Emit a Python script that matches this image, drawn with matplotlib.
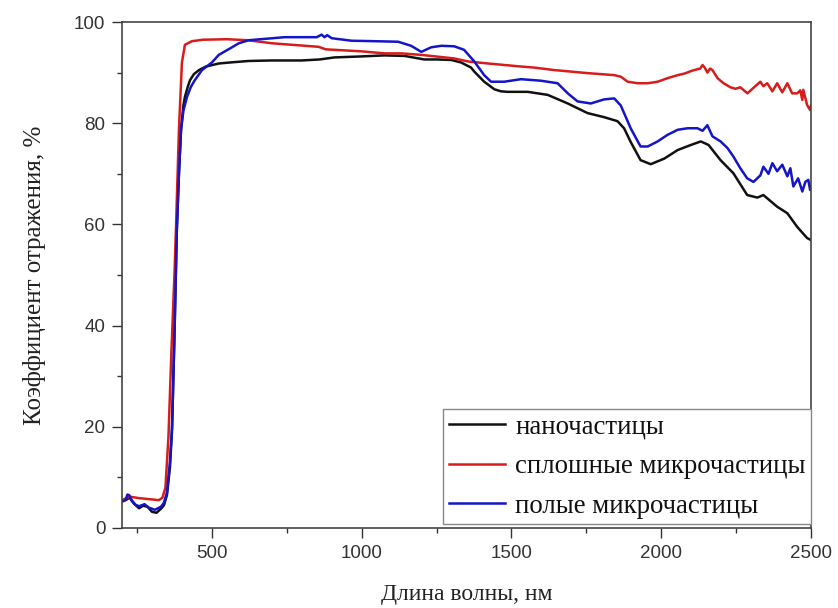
import matplotlib
matplotlib.use("Agg")
import matplotlib.pyplot as plt
from matplotlib.ticker import MultipleLocator

# Reflectance spectra, wavelength in nm, reflectance in %
nano_wl = [200, 215, 225, 240, 257, 270, 285, 300, 315, 330, 340, 350, 360, 367, 375,
           383, 390, 397, 405, 410, 420, 427, 440, 457, 480, 523, 560, 623, 700, 800,
           860, 909, 1000, 1076, 1143, 1209, 1250, 1299, 1332, 1365, 1376, 1409, 1443,
           1465, 1487, 1554, 1621, 1688, 1754, 1809, 1854, 1876, 1898, 1931, 1965,
           2010, 2055, 2099, 2132, 2158, 2198, 2241, 2287, 2321, 2341, 2387, 2421,
           2454, 2487, 2500]
nano_r = [5.4, 5.6, 6.0, 4.8, 3.9, 4.4, 4.2, 3.2, 3.0, 3.8, 4.5, 6.5, 12.0, 19.4, 38.0,
          59.0, 70.0, 78.7, 83.5, 85.2, 87.3, 88.5, 89.7, 90.5, 91.2, 91.8, 92.0, 92.3,
          92.4, 92.4, 92.6, 93.0, 93.2, 93.4, 93.3, 92.6, 92.6, 92.5, 92.0, 91.0, 90.2,
          88.2, 86.7, 86.3, 86.2, 86.2, 85.6, 83.9, 82.0, 81.2, 80.4, 79.0, 76.3, 72.7,
          71.9, 73.0, 74.7, 75.7, 76.4, 75.7, 72.7, 70.1, 65.8, 65.3, 65.8, 63.5, 62.2,
          59.5, 57.3, 56.9]

solid_wl = [200, 225, 257, 290, 323, 335, 345, 355, 365, 375, 380, 390, 400, 410, 433,
            470, 550, 620, 700, 856, 880, 1000, 1076, 1133, 1199, 1309, 1355, 1422, 1532,
            1575, 1643, 1754, 1843, 1865, 1888, 1921, 1955, 1988, 2021, 2055, 2077, 2104,
            2130, 2138, 2145, 2154, 2163, 2171, 2188, 2208, 2231, 2248, 2264, 2288, 2308,
            2331, 2341, 2354, 2371, 2387, 2404, 2421, 2437, 2454, 2464, 2471, 2474, 2487,
            2497, 2500]
solid_r = [5.5, 6.2, 5.9, 5.7, 5.5, 6.0, 8.0, 18.0, 35.0, 50.0, 59.0, 78.7, 92.0, 95.5,
           96.2, 96.5, 96.6, 96.4, 95.8, 95.1, 94.6, 94.2, 93.8, 93.8, 93.5, 92.8, 92.2,
           91.8, 91.2, 91.0, 90.5, 89.9, 89.5, 89.2, 88.2, 87.9, 87.9, 88.2, 88.9, 89.5,
           89.8, 90.4, 90.8, 91.5, 91.0, 90.0, 90.8, 90.5, 88.9, 87.9, 87.1, 86.8, 87.1,
           85.9, 87.0, 88.2, 87.3, 87.9, 86.3, 87.9, 86.1, 87.9, 85.9, 85.9, 86.5, 84.6,
           86.6, 83.6, 82.6, 83.5]

hollow_wl = [200, 212, 218, 224, 232, 245, 257, 275, 290, 310, 330, 340, 350, 360, 367,
             375, 383, 390, 397, 405, 417, 430, 443, 467, 500, 523, 567, 590, 623, 743,
             800, 850, 866, 876, 885, 900, 966, 1050, 1122, 1165, 1199, 1232, 1266, 1309,
             1342, 1376, 1409, 1432, 1476, 1532, 1598, 1654, 1688, 1721, 1765, 1809, 1843,
             1865, 1898, 1931, 1955, 1988, 2021, 2055, 2088, 2121, 2138, 2154, 2171, 2198,
             2221, 2241, 2264, 2287, 2308, 2331, 2341, 2358, 2371, 2387, 2404, 2421, 2431,
             2441, 2457, 2471, 2481, 2491, 2497, 2500]
hollow_r = [5.2, 5.5, 6.6, 6.5, 5.5, 4.6, 4.3, 4.7, 4.0, 3.6, 4.2, 5.0, 7.0, 13.0, 20.0,
            38.0, 59.0, 70.0, 78.7, 82.5, 85.2, 87.2, 88.5, 90.5, 92.0, 93.5, 95.0, 95.8,
            96.4, 97.0, 97.0, 97.0, 97.5, 97.0, 97.4, 96.8, 96.3, 96.2, 96.1, 95.3, 94.1,
            95.0, 95.3, 95.2, 94.5, 92.2, 89.5, 88.2, 88.2, 88.7, 88.4, 87.9, 85.9, 84.3,
            83.9, 84.7, 84.9, 83.5, 79.0, 75.4, 75.4, 76.4, 77.7, 78.7, 79.0, 79.0, 78.5,
            79.6, 77.4, 76.4, 75.1, 73.4, 71.1, 69.1, 68.4, 69.7, 71.4, 70.0, 72.1, 70.5,
            71.8, 69.5, 71.1, 67.5, 69.1, 66.5, 68.4, 68.8, 66.8, 67.5]

labels = ["наночастицы", "сплошные микрочастицы", "полые микрочастицы"]
colors = ["#111111", "#d81c1c", "#1414c8"]

fig = plt.figure(figsize=(8.38, 6.08), dpi=100)
ax = fig.add_axes([0.1456, 0.1316, 0.8222, 0.8322])

for wl, r, lab, col in zip([nano_wl, solid_wl, hollow_wl],
                           [nano_r, solid_r, hollow_r], labels, colors):
    ax.plot(wl, r, color=col, linewidth=1.8, label=lab)

ax.set_xlim(200, 2500)
ax.set_ylim(0, 100)
ax.xaxis.set_major_locator(MultipleLocator(500))
ax.xaxis.set_minor_locator(MultipleLocator(250))
ax.yaxis.set_major_locator(MultipleLocator(20))
ax.yaxis.set_minor_locator(MultipleLocator(10))
ax.tick_params(which="major", direction="out", length=7, width=1, color="#333333",
               labelsize=13.5, labelcolor="#333333", pad=5)
ax.tick_params(which="minor", direction="out", length=3.6, width=1, color="#333333")
for lbl in ax.get_xticklabels() + ax.get_yticklabels():
    lbl.set_fontfamily("Liberation Sans")
for sp in ax.spines.values():
    sp.set_color("#444444")
    sp.set_linewidth(1.2)

ax.set_xlabel("Длина волны, нм", fontfamily="Liberation Serif", fontsize=17,
              color="#222222", labelpad=16)
ax.set_ylabel("Коэффициент отражения, %", fontfamily="Liberation Serif", fontsize=18,
              color="#222222", labelpad=20)

leg = ax.legend(loc="lower right", bbox_to_anchor=(1.0, 0.008), borderaxespad=0,
                prop={"family": "Liberation Serif", "size": 19.4}, handlelength=2.1,
                handletextpad=0.37, labelspacing=0.54, borderpad=0.2,
                fancybox=False, framealpha=1)
leg.get_frame().set_edgecolor("#888888")
leg.get_frame().set_linewidth(1.0)
for t in leg.get_texts():
    t.set_color("#111111")

fig.savefig("out.png", dpi=100)
